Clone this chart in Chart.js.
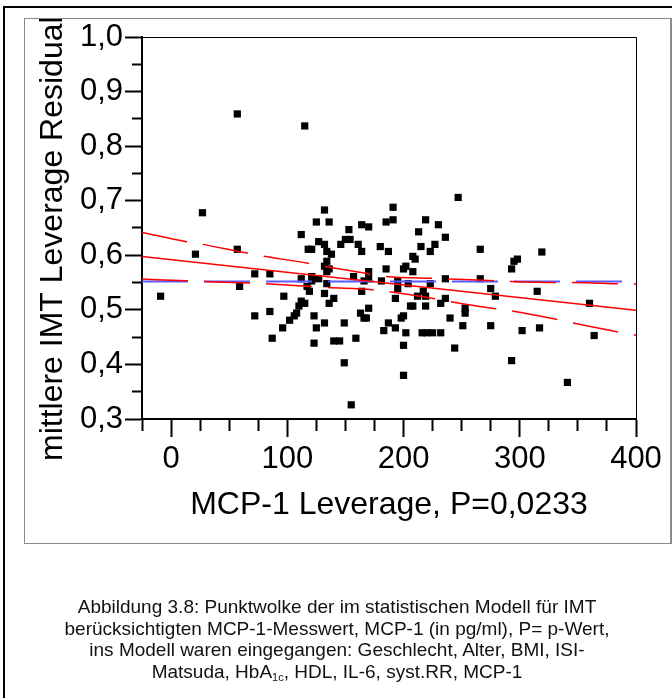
<!DOCTYPE html>
<html><head><meta charset="utf-8">
<script src="https://cdn.jsdelivr.net/npm/chart.js@4.4.1/dist/chart.umd.min.js"></script>
<style>
html,body{margin:0;padding:0;background:#fff;width:672px;height:698px;overflow:hidden;font-family:'Liberation Sans',Arial,sans-serif;}
#outer{position:absolute;left:3px;top:6px;width:720px;height:740px;border-left:2px solid #000;border-top:2px solid #000;}
#inner{position:absolute;left:24px;top:18px;width:645px;height:524px;border:1px solid #8a8a8a;border-right:2px solid #8a8a8a;}
#wrap{position:absolute;left:0;top:0;width:672px;height:698px;}
#caption{position:absolute;left:0;top:596px;width:674px;text-align:center;font-size:19px;line-height:21.7px;color:#111;}
#caption sub{font-size:11px;vertical-align:-3px;line-height:0;}
</style></head>
<body>
<div id="outer"></div>
<div id="inner"></div>
<div id="wrap"><canvas id="c" width="672" height="698"></canvas></div>
<div id="caption">Abbildung 3.8: Punktwolke der im statistischen Modell für IMT<br>berücksichtigten MCP-1-Messwert, MCP-1 (in pg/ml), P= p-Wert,<br>ins Modell waren eingegangen: Geschlecht, Alter, BMI, ISI-<br>Matsuda, HbA<sub>1c</sub>, HDL, IL-6, syst.RR, MCP-1</div>
<script>
// ---- data ----
const mcp1 = [-9,21,27,57,57,59,72,85,72,85,87,96,97,102,106,108,110,112,115,112,112,115,117,119,118,121,121,121,123,123,
  125,125,127,127,132,132,132,132,132,134,134,134,134,136,136,136,138,140,140,145,146,149,149,150,153,154,155,157,159,161,
  164,164,164,163,166,166,168,170,170,170,170,180,181,183,185,185,187,187,191,191,193,193,195,195,198,200,200,200,200,202,
  202,204,206,208,208,208,210,213,212,215,216,217,219,219,219,220,223,223,225,227,230,232,232,236,236,236,240,244,247,251,
  253,253,266,266,275,279,275,293,295,298,293,302,315,317,319,341,360,364];
const imtResidual = [0.525,0.602,0.678,0.859,0.611,0.543,0.566,0.566,0.489,0.497,0.448,0.467,0.525,0.481,0.489,0.494,0.507,0.516,0.512,0.638,0.557,0.837,0.543,0.534,0.611,0.611,0.561,0.553,0.489,0.439,
  0.661,0.467,0.625,0.557,0.683,0.620,0.580,0.530,0.476,0.607,0.589,0.570,0.548,0.661,0.575,0.512,0.602,0.521,0.443,0.443,0.620,0.476,0.403,0.629,0.647,0.629,0.326,0.561,0.448,0.620,
  0.656,0.607,0.534,0.494,0.553,0.485,0.485,0.652,0.570,0.557,0.503,0.616,0.553,0.462,0.661,0.575,0.607,0.476,0.665,0.688,0.521,0.467,0.553,0.539,0.485,0.489,0.575,0.435,0.380,0.580,
  0.458,0.548,0.507,0.507,0.598,0.570,0.593,0.643,0.525,0.616,0.458,0.534,0.665,0.525,0.507,0.458,0.607,0.548,0.458,0.620,0.656,0.512,0.458,0.633,0.557,0.521,0.485,0.430,0.706,0.471,
  0.503,0.494,0.611,0.557,0.539,0.525,0.471,0.575,0.589,0.593,0.407,0.462,0.534,0.467,0.606,0.367,0.512,0.453];

const meanLevel = 0.552;
const fitX = [-25, 400];
const fitY = [0.598, 0.4995];
const upperX = [-25,13,26,65,78,120,132,172,185,227,239,280,293,333,346,386,400];
const upperY = [0.642,0.625,0.6205,0.604,0.599,0.5845,0.5795,0.5656,0.5612,0.5575,0.5564,0.5533,0.552,0.5502,0.5502,0.5478,0.5473];
const lowerX = [-25,13,27,66,80,120,133,173,186,227,239,279,292,333,346,385,400];
const lowerY = [0.5564,0.5533,0.552,0.5491,0.5478,0.5429,0.541,0.5368,0.5337,0.5203,0.5154,0.502,0.4984,0.4819,0.4758,0.4593,0.4535];

const xTickValues = [-25,0,25,50,75,100,125,150,175,200,225,250,275,300,325,350,375,400];
const xTickLabels = ['','0','','','','100','','','','200','','','','300','','','','400'];
const yTickValues = [0.3,0.35,0.4,0.45,0.5,0.55,0.6,0.65,0.7,0.75,0.8,0.85,0.9,0.95,1.0];
const yTickLabels = ['0,3','','0,4','','0,5','','0,6','','0,7','','0,8','','0,9','','1,0'];

const xTitle = 'MCP-1 Leverage, P=0,0233';
const yTitle = 'mittlere IMT Leverage Residual';
// ---------------------------------------

const FONT = '"Liberation Sans", Arial, sans-serif';
const pts = mcp1.map((v,i)=>({x:v, y:imtResidual[i]}));
const pair = (xs, ys) => xs.map((v,i)=>({x:v, y:ys[i]}));

const decor = {
  id: 'decor',
  afterDraw(chart) {
    const {ctx, chartArea: a} = chart;
    ctx.save();
    ctx.strokeStyle = '#000';
    ctx.lineWidth = 1;
    ctx.beginPath();
    ctx.moveTo(a.left, a.top + 0.5);
    ctx.lineTo(a.right + 0.5, a.top + 0.5);
    ctx.lineTo(a.right + 0.5, a.bottom);
    ctx.stroke();
    ctx.fillStyle = '#000';
    ctx.font = '32px ' + FONT;
    ctx.textAlign = 'center';
    ctx.textBaseline = 'alphabetic';
    ctx.fillText(xTitle, (a.left + a.right) / 2, a.bottom + 95);
    ctx.beginPath();
    ctx.rect(25, 19, 644, 523);
    ctx.clip();
    ctx.font = '32px ' + FONT;
    ctx.translate(62, a.bottom + 42);
    ctx.rotate(-Math.PI / 2);
    ctx.textAlign = 'left';
    ctx.fillText(yTitle, 0, 0);
    ctx.restore();
  }
};

new Chart(document.getElementById('c'), {
  type: 'scatter',
  data: {
    datasets: [
      { data: pair(fitX, fitY), showLine: true, borderColor: '#ff0000', borderWidth: 1.5, pointRadius: 0, order: 0 },
      { data: pair(upperX, upperY), showLine: true, borderColor: '#ff0000', borderWidth: 1.5, borderDash: [46,16], cubicInterpolationMode: 'monotone', pointRadius: 0, order: 0 },
      { data: pair(lowerX, lowerY), showLine: true, borderColor: '#ff0000', borderWidth: 1.5, borderDash: [46,16], cubicInterpolationMode: 'monotone', pointRadius: 0, order: 0 },
      { data: pair(fitX, [meanLevel, meanLevel]), showLine: true, borderColor: '#5b5bff', borderWidth: 2, borderDash: [46,16], pointRadius: 0, order: 1 },
      { data: pts, pointStyle: 'rect', pointRadius: 5.1, pointBackgroundColor: '#000', pointBorderWidth: 0, showLine: false, order: 2 }
    ]
  },
  options: {
    responsive: false,
    animation: false,
    devicePixelRatio: 1,
    layout: { padding: { top: 37, right: 36, left: 0, bottom: 0 } },
    plugins: { legend: { display: false }, tooltip: { enabled: false } },
    scales: {
      x: {
        type: 'linear', min: -25, max: 400,
        afterBuildTicks: s => { s.ticks = xTickValues.map(v => ({ value: v })); },
        afterFit: s => { s.height = 279; },
        ticks: { autoSkip: false, maxRotation: 0, minRotation: 0, padding: 4, color: '#000',
          font: { size: 31, family: FONT }, callback: (v, i) => xTickLabels[i] },
        grid: { drawOnChartArea: false, drawTicks: true, tickLength: 18, tickWidth: 2, tickColor: '#000',
          tickBorderDash: c => (xTickLabels[c.index] ? [] : [11, 100]) },
        border: { display: true, color: '#000', width: 2 }
      },
      y: {
        type: 'linear', min: 0.3, max: 1.0,
        afterBuildTicks: s => { s.ticks = yTickValues.map(v => ({ value: v })); },
        afterFit: s => { s.width = 142; },
        ticks: { autoSkip: false, padding: 2, color: '#000',
          font: { size: 31, family: FONT }, callback: (v, i) => yTickLabels[i] },
        grid: { drawOnChartArea: false, drawTicks: true, tickLength: 17, tickWidth: 2, tickColor: '#000',
          tickBorderDash: c => (yTickLabels[c.index] ? [] : [0, 7, 10, 100]) },
        border: { display: true, color: '#000', width: 2 }
      }
    }
  },
  plugins: [decor]
});
</script>
</body></html>
